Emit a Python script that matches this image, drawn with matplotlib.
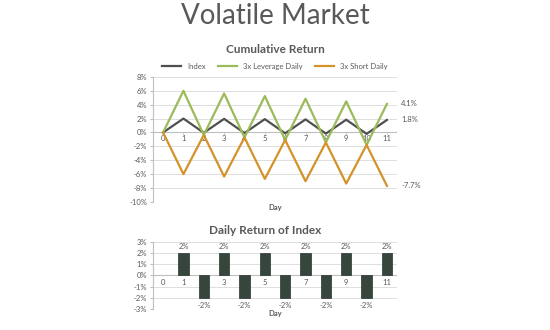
import matplotlib.pyplot as plt

plt.rcParams['font.family'] = ['Lato', 'DejaVu Sans']

days = list(range(12))
index_cum = [0, 2.0, -0.04, 1.96, -0.08, 1.92, -0.12, 1.88, -0.16, 1.84, -0.20, 1.80]
lev_cum = [0, 6.0, -0.36, 5.62, -0.72, 5.24, -1.08, 4.86, -1.43, 4.48, -1.79, 4.11]
short_cum = [0, -6.0, -0.36, -6.34, -0.72, -6.68, -1.08, -7.01, -1.43, -7.35, -1.79, -7.68]
bar_days = list(range(1, 12))
daily_ret = [2, -2, 2, -2, 2, -2, 2, -2, 2, -2, 2]
end_labels = ["1.8%", "4.1%", "-7.7%"]

c_index = '#4f4f4f'
c_lev = '#9bbb59'
c_short = '#d4922a'
txt = '#595959'
grid = '#d9d9d9'

fig = plt.figure(figsize=(5.5, 3.3), dpi=100)
fig.text(0.5, 0.952, 'Volatile Market', ha='center', va='center', fontsize=20, color=txt)

# top chart: cumulative return
ax = fig.add_axes([0.278, 0.388, 0.444, 0.379])
ax.plot(days, index_cum, color=c_index, lw=1.6, label='Index', zorder=3)
ax.plot(days, lev_cum, color=c_lev, lw=1.6, label='3x Leverage Daily', zorder=3)
ax.plot(days, short_cum, color=c_short, lw=1.6, label='3x Short Daily', zorder=3)
ax.set_xlim(-0.5, 11.5)
ax.set_ylim(-10, 8)
ax.set_yticks(range(-10, 9, 2))
ax.set_yticklabels([f'{v}%' for v in range(-10, 9, 2)], fontsize=5.5, color=txt)
ax.set_xticks([])
for d in days:
    ax.text(d, -0.35, str(d), ha='center', va='top', fontsize=5.5, color=txt, zorder=1)
ax.axhline(0, color='#bfbfbf', lw=0.8, zorder=2)
for d in days:
    ax.plot([d, d], [0, -0.25], color='#bfbfbf', lw=0.6, zorder=2)
ax.grid(axis='y', color=grid, lw=0.6)
ax.set_axisbelow(True)
for s in ['top', 'right', 'bottom']:
    ax.spines[s].set_visible(False)
ax.spines['left'].set_color('#bfbfbf')
ax.tick_params(axis='y', length=2, color='#bfbfbf', pad=2)
ax.set_xlabel('Day', fontsize=5.5, color=txt, fontweight='bold')
ax.xaxis.set_label_coords(0.5, -0.02)
ax.set_title('Cumulative Return', fontsize=8.5, fontweight='bold', color=txt, pad=17)
ax.legend(loc='lower center', bbox_to_anchor=(0.5, 1.0), ncol=3, frameon=False,
          fontsize=5.5, handlelength=2.5, columnspacing=1.6, labelcolor=txt)
for y, lab in zip([index_cum[-1], lev_cum[-1], short_cum[-1]], end_labels):
    ax.text(11.7, y, lab, ha='left', va='center', fontsize=5.5, color=txt)

# bottom chart: daily return
bx = fig.add_axes([0.278, 0.064, 0.444, 0.203])
bx.bar(bar_days, daily_ret, width=0.5, color='#36463c', edgecolor='#27322b', lw=0.5, zorder=3)
bx.set_xlim(-0.5, 11.5)
bx.set_ylim(-3, 3)
bx.set_yticks(range(-3, 4))
bx.set_yticklabels([f'{v}%' for v in range(-3, 4)], fontsize=5.5, color=txt)
bx.set_xticks([])
for d in days:
    bx.text(d, -0.35, str(d), ha='center', va='top', fontsize=5.5, color=txt, zorder=1)
bx.axhline(0, color='#bfbfbf', lw=0.8, zorder=2)
for d, v in zip(bar_days, daily_ret):
    if v > 0:
        bx.text(d, v + 0.25, f'{v}%', ha='center', va='bottom', fontsize=5.5, color=txt)
    else:
        bx.text(d, v - 0.35, f'{v}%', ha='center', va='top', fontsize=5.5, color=txt)
bx.grid(axis='y', color=grid, lw=0.6)
bx.set_axisbelow(True)
for s in ['top', 'right', 'bottom']:
    bx.spines[s].set_visible(False)
bx.spines['left'].set_color('#bfbfbf')
bx.tick_params(axis='y', length=2, color='#bfbfbf', pad=2)
bx.set_title('Daily Return of Index', fontsize=8.5, fontweight='bold', color=txt, pad=6, x=0.46)
bx.set_xlabel('Day', fontsize=5.5, color=txt, fontweight='bold', labelpad=1)

fig.savefig('out.png', dpi=100)
